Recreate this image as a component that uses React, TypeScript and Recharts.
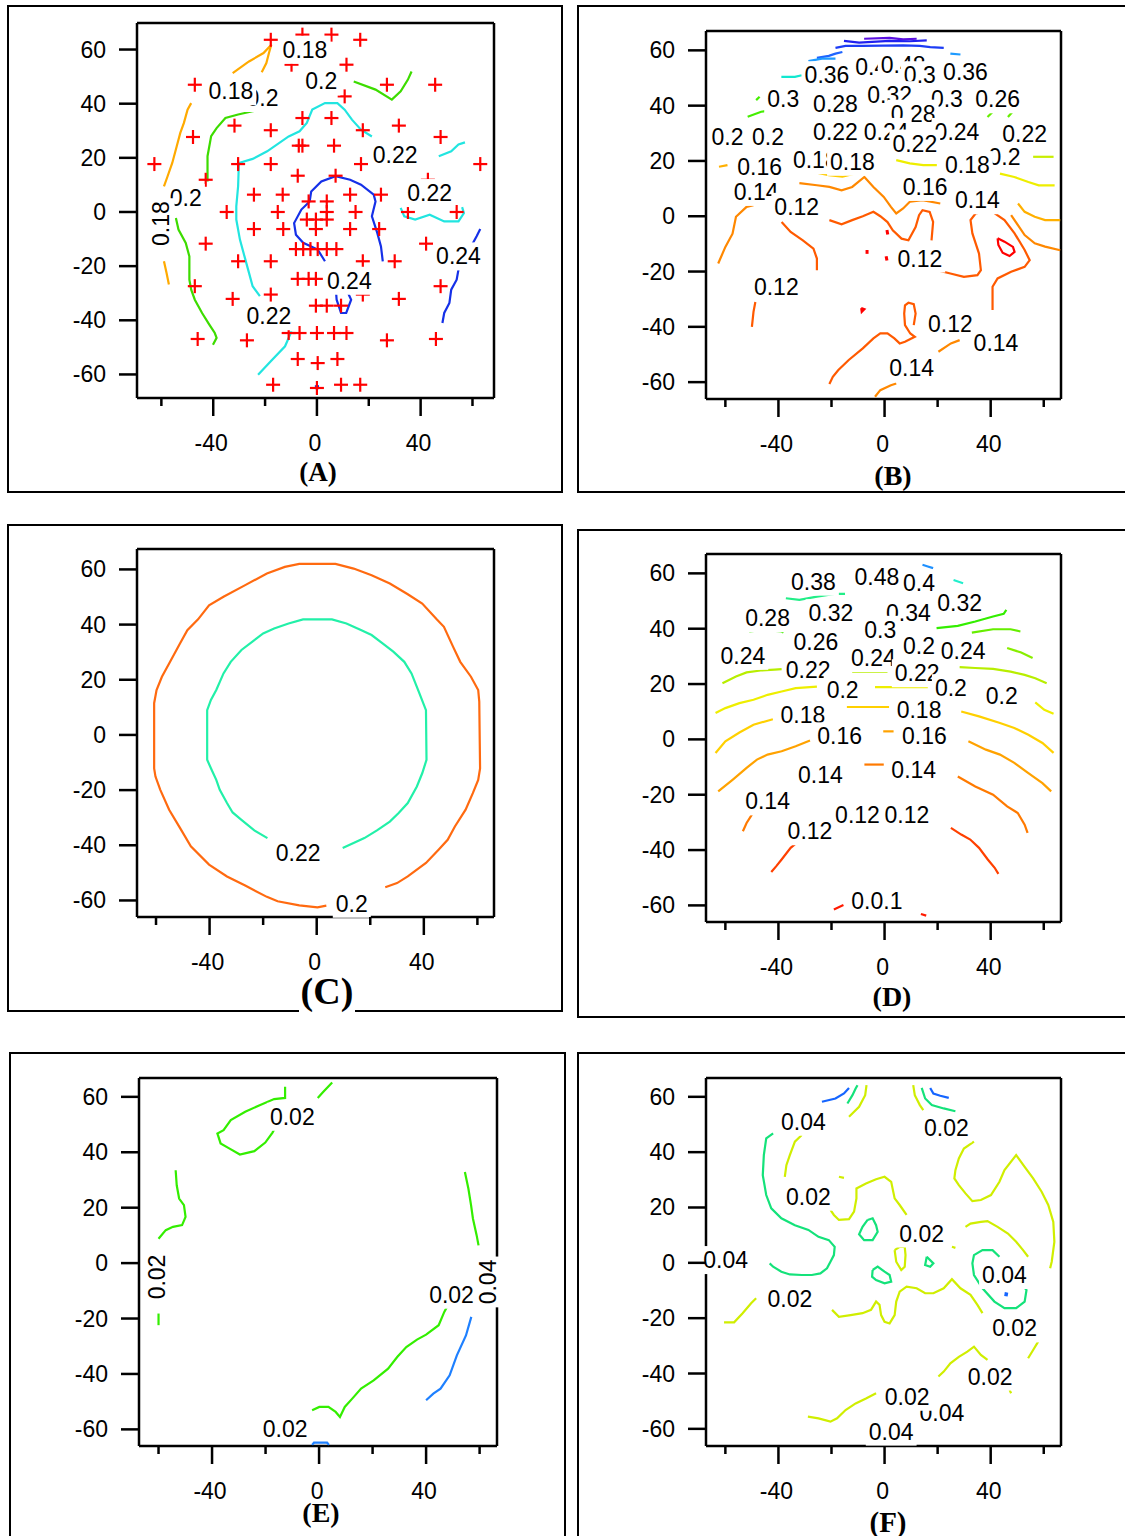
import React from "react";
import { ComposedChart, Line, Scatter, XAxis, YAxis, CartesianGrid } from "recharts";

type P = [number, number];
type Lab = [string, number, number];

const TICKS = [-60, -40, -20, 0, 20, 40, 60];
const FONT = "'Liberation Sans', Arial, Helvetica, sans-serif";

// ---------- (A) ----------
const aOrangeTop: P[] = [[-32.5, 51.3], [-26.2, 55.6], [-20.6, 58.7], [-17.6, 61.8], [-18.5, 58.7], [-19.5, 55], [-21.3, 51.6]];
const aOrangeLeft: P[] = [[-48.5, 40.2], [-49.9, 37.8], [-51.3, 32.9], [-52.7, 29.2], [-54.1, 24.2], [-55.8, 18.1], [-57.6, 13.2], [-59, 9.5]];
const aOrangeLow: P[] = [[-59, -18.2], [-58, -22.5], [-57.1, -26.8]];
const aGreenLeft: P[] = [[-42.2, 11.3], [-42.2, 20.6], [-40.8, 28], [-38.7, 31], [-35.3, 34.7], [-30.4, 36], [-24.8, 37.2], [-23.4, 37.5]];
const aGreenLow: P[] = [[-54.4, -2.2], [-53.4, -6.5], [-50.6, -11.4], [-49.2, -16.4], [-49.2, -25], [-48.5, -28.7], [-47.1, -32.4], [-44.3, -37.3], [-41.5, -41.6], [-39.4, -44.7], [-38.7, -46.5], [-40.1, -49]];
const aGreenTop: P[] = [[14.2, 48.2], [22.6, 45.2], [28.9, 41.5], [32.3, 44.6], [35.1, 48.9], [36.5, 51.9]];
const aCyanMain: P[] = [[-22, -31.1], [-24.8, -27.4], [-26.2, -22.5], [-27.6, -17.6], [-29.7, -10.2], [-31.1, -2.8], [-31.1, 2.1], [-30.4, 9.5], [-30.1, 18.1], [-24.8, 19.6], [-19.2, 22.4], [-10.9, 27.9], [-6.7, 29.8], [-3.9, 32.9], [-1.8, 37.8], [3.1, 40.2], [7.9, 40.2], [10.7, 37.8], [13.5, 34.1], [17, 30.4], [21.2, 27.9]];
const aCyanRight: P[] = [[47, 20.6], [51.8, 22.4], [54.6, 24.9], [57.1, 25.7]];
const aCyanLoop: P[] = [[32.3, 1.5], [33.7, -1.6], [37.9, -2.8], [43.5, -1], [49.1, -3.5], [54.6, -3.5], [56.7, -0.4], [56, 1.8]];
const aCyanLow: P[] = [[-22.7, -60.1], [-17.8, -55.1], [-12.3, -49.6], [-9.8, -44.1]];
const aBlueLoop: P[] = [[3.1, -18.2], [0.3, -13.9], [-5.3, -11.4], [-8.1, -8.4], [-8.8, -4.1], [-6, 0.9], [-2.8, 3.9], [-2.2, 7.6], [1.7, 11.3], [7.2, 13.2], [12.8, 11.9], [17, 10.1], [21.9, 6.4], [22.6, 3.9], [21.2, -1.6], [23.3, -7.8], [24.7, -12.7], [25.4, -18.2]];
const aBlueSmall: P[] = [[7.4, -29.9], [7.6, -32.4], [9.3, -37.3], [11.3, -37.3], [13.2, -32.4], [12, -29.9]];
const aBlueRight: P[] = [[63, -6.3], [61.6, -9], [54.6, -21.3], [53.9, -25], [51.8, -28.7], [51.1, -33.6], [49.1, -37.3], [48.4, -41]];
const aBlueDot: P[] = [[-0.8, -64.7], [0.8, -64.7]];
const aPlus: P[] = [
  [-17.8, 63.6], [16.7, 63.6], [-5.6, 65.5], [5.6, 65.5], [-9.8, 54.4], [11.4, 54.4],
  [-47.1, 47], [27, 47], [45.6, 47], [10.7, 42.7], [-5.6, 34.7], [5.6, 34.7],
  [-31.8, 31.9], [31.6, 31.9], [-17.8, 30.2], [17.7, 30.2], [-47.8, 27.7], [47.7, 27.7],
  [-5.6, 24.5], [-7, 24.5], [6.6, 24.5], [-62.7, 17.7], [-30.4, 17.7], [-17.8, 17.7], [17, 17.7], [63, 17.7],
  [-7.4, 13.4], [7.2, 13.4], [-42.9, 11.9], [42.8, 11.9], [-24.3, 6.4], [-13.2, 6.4], [12.8, 6.4], [24.7, 6.4],
  [-3.2, 3.9], [3.8, 3.9], [-34.8, 0], [-15.1, 0], [3.8, 0], [14.9, 0], [35.1, 0], [53.9, 0],
  [-3.9, -2.8], [-0.4, -2.8], [3.8, -2.8], [-24.3, -6.3], [-13, -6.3], [-0.4, -6.3], [12.8, -6.3], [24, -6.3],
  [-42.9, -11.7], [42.1, -11.7], [-8.1, -13.7], [-5.3, -13.7], [-2.5, -13.7], [0.3, -13.7], [3.8, -13.7], [7.5, -13.7],
  [-30.4, -18.2], [-17.8, -18.2], [17.7, -18.2], [30, -18.2], [-7.4, -24.7], [-3.2, -24.7], [-0.4, -24.7],
  [-47.1, -27.4], [47.7, -27.4], [-17.8, -30.5], [17.7, -30.5], [-32.5, -32.1], [31.6, -32.1],
  [-0.4, -34.6], [3.8, -34.6], [9.3, -34.6], [-10.9, -44.7], [-6.7, -44.7], [0, -44.7], [6.6, -44.7], [11.4, -44.7],
  [-46, -46.9], [45.9, -46.9], [-27, -47.4], [27, -47.4], [-7.4, -54.3], [0.3, -55.8], [7.9, -54.3],
  [-16.9, -63.8], [9.3, -63.8], [16.7, -63.8], [0, -65],
];
const aLabels: Lab[] = [["0.18", -4.6, 59.9], ["0.2", 1.7, 48.2], ["0.2", -21, 42.1], ["0.18", -33.2, 44.6], ["0.22", 30.2, 21.2], ["0.22", 43.5, 7], ["0.2", -50.6, 5.2], ["0.24", 54.6, -16.4], ["0.24", 12.5, -25.4], ["0.22", -18.5, -38.5]];
const aVLabels: Lab[] = [["0.18", -60.3, -4.3]];

// ---------- (B) ----------
const bViolet: P[] = [[-7.7, 64.2], [1.9, 64.5], [7, 64], [12.1, 64.2]];
const bBlueTop: P[] = [[-15.3, 63.4], [-9.6, 62.8], [1.9, 63.4], [9.5, 63.3], [15.9, 63.6]];
const bBlue2: P[] = [[-18.5, 60.9], [-14.7, 61.6], [-8.3, 61.6], [7, 61.8], [13.3, 61.6], [17.2, 61.2], [22.3, 60.9]];
const bBlue3: P[] = [[-25.5, 57.3], [-21, 58], [-18.5, 58.8], [-15.9, 59.4]];
const bSkyL: P[] = [[-28.7, 56.1], [-23.6, 57], [-18.5, 57]];
const bSkyR: P[] = [[24.8, 58.8], [28.6, 58.5]];
const bCyan: P[] = [[-38.9, 50.4], [-33.8, 50.4], [-31.2, 51]];
const bGreenL: P[] = [[-51.6, 36], [-46.5, 37.8], [-42.7, 38.3]];
const bGreenL2: P[] = [[-48.4, 42], [-47.1, 43.2]];
const bGreenR1: P[] = [[38.8, 35.9], [40.7, 37.7]];
const bGreenR2: P[] = [[46.5, 35.9], [48.4, 38]];
const bLimeR: P[] = [[56, 21.5], [63.7, 21.5]];
const bYellowC: P[] = [[4.4, 20.3], [9.5, 19.1], [14.6, 18.5], [19.7, 18.5]];
const bYellowR: P[] = [[43.5, 15.4], [48.9, 14.2], [54.2, 12.4], [58.1, 11.2], [64.1, 11.2]];
const bGoldC: P[] = [[-27.4, 16.1], [-21, 14.9], [-15.9, 14.3], [-10.9, 15.5]];
const bGoldL: P[] = [[-62.4, 17.9], [-59.2, 18.5]];
const bGoldR: P[] = [[50.3, 4.6], [52.8, 1.6], [56.6, -0.2], [60.5, -1.4], [66.2, -1.4]];
const bOrangeL: P[] = [[-62.7, -17.1], [-60, -11.1], [-57.3, -6.3], [-56, -0.2], [-52, 3.4], [-49.4, 4]];
const bOrangeTop: P[] = [[-32.1, 12], [-25.5, 11.2], [-20.8, 10.6], [-16.2, 9.4], [-12.2, 10.6], [-7.6, 14.2], [-4.2, 10.6], [-0.3, 7], [2.4, 3.4], [4.4, 1], [7, 2.8], [9.6, 5.3], [14.3, 5.8], [21, 4.6]];
const bOrangeR: P[] = [[47.7, 0.4], [52.8, -6.8], [56.6, -9.8], [60.5, -11], [66.2, -12.3]];
const bOrangeBot1: P[] = [[-3.6, -65.3], [-1.6, -62.9], [2.4, -61.1], [4.4, -60.5]];
const bOrangeBot2: P[] = [[20.3, -49], [25, -46], [28.3, -44.8]];
const bRedL: P[] = [[-38.8, -2.1], [-35.4, -5.7], [-30.8, -8.7], [-26.8, -11.7], [-25.5, -15.3], [-25.5, -19.5]];
const bRedLL: P[] = [[-48.7, -31], [-49.4, -34.6], [-50, -40]];
const bRedC: P[] = [[-20.8, -1.4], [-16.2, -2.9], [-12.2, -1.4], [-8.2, 0], [-4.2, 1.6], [-1.6, 0], [1.1, -2.1], [3.1, -5.1], [6.4, -8.1], [9, -8.7], [11.7, -3.9], [13, 0.4], [14.3, 2.2], [17, 1.6], [18.3, -2], [17.7, -8.7]];
const bRedR: P[] = [[19.7, -19.5], [24.8, -20.7], [29.9, -21.9], [35, -21.3], [36.3, -19.5], [35.6, -13.5], [33.1, -6.2], [32.4, -1.4], [34.3, 1], [37.5, 1.6], [40.7, 1.6], [45.2, -1.4], [49, -6.2], [52.8, -12.2], [54.7, -15.9], [52.8, -18.3], [47.7, -20.1], [42.6, -22.5], [40.7, -25.5], [40.7, -33.9]];
const bRedBot: P[] = [[-20.8, -60.7], [-19.5, -58.1], [-17.5, -55.7], [-13.5, -52], [-8.2, -47.8], [-4.2, -44.2], [-1.6, -42.4], [1.1, -42.4], [3.7, -44.2], [5.7, -46], [7.7, -45.4], [11.4, -43.6], [9.7, -42.4], [7.7, -39.4], [7.4, -35.2], [7.7, -32.2], [9, -31.3], [11, -31.8], [11.7, -35.2], [11, -39.4]];
const bRedLoop: P[] = [[42.6, -8], [45.2, -9.2], [48.4, -11.1], [49, -12.9], [47.1, -14.4], [44.5, -13.2], [42.9, -10.4], [42.6, -8]];
const bRedBit1: P[] = [[0.9, -5], [1.2, -6.6]];
const bRedBit2: P[] = [[-6.6, -12.2], [-6.6, -13.6]];
const bRedBit3: P[] = [[0.6, -14.5], [0.9, -16]];
const bRedBit4: P[] = [[-8.8, -33.2], [-7.6, -33.6], [-8.6, -34.6], [-8.8, -33.2]];
const bLabels: Lab[] = [
  ["0.4", -5, 54], ["0.48", 7, 54.6], ["0.36", -21.7, 51], ["0.3", 13.3, 51], ["0.36", 30.5, 52.2],
  ["0.32", 1.9, 43.8], ["0.3", -38.2, 42.3], ["0.28", -18.5, 40.7], ["0.3", 23.5, 42.3], ["0.26", 42.6, 42.3], ["0.28", 10.8, 37.1],
  ["0.24", 0.6, 30.5], ["0.24", 27.3, 30.5], ["0.2", -59.2, 28.7], ["0.2", -43.9, 28.7], ["0.22", -18.5, 30.5], ["0.22", 11.4, 26.3], ["0.22", 52.8, 29.9],
  ["0.2", 45.2, 21.5], ["0.18", -26.1, 20.3], ["0.18", -12.1, 19.7], ["0.18", 31.2, 18.5], ["0.16", -47.1, 17.9], ["0.14", -48.4, 8.8],
  ["0.12", -33.1, 3.4], ["0.16", 15.3, 10.6], ["0.14", 35, 5.8],
  ["0.12", 13.3, -15.3], ["0.12", -40.8, -25.5], ["0.12", 24.8, -38.8], ["0.14", 42, -46], ["0.14", 10.2, -55],
];

// ---------- (C) ----------
const cOuter: P[] = [[3.6, -61.9], [0.3, -62.5], [-6.5, -61.8], [-14.6, -60.3], [-18.6, -58.7], [-26.7, -54.6], [-33.5, -51.3], [-40.2, -47], [-47, -40.4], [-51, -33.8], [-55.1, -27.1], [-58.4, -19.9], [-60.2, -15.1], [-60.7, -12.1], [-60.7, 11.5], [-59.8, 16.3], [-57.8, 21.1], [-55.1, 25.9], [-51, 33.2], [-48.3, 38], [-44.3, 41.9], [-40.2, 47], [-34.8, 50.1], [-26.7, 54.3], [-18.6, 58.5], [-11.9, 60.9], [-6.5, 62], [7, 62], [13.8, 60.3], [20.5, 57.9], [27.3, 54.9], [34, 51], [39.4, 47.6], [44.8, 41.9], [47.5, 39.2], [50.9, 32], [53.6, 26.5], [57.6, 21.1], [60.3, 16.3], [60.7, 12.1], [61, -12.1], [60.3, -16.3], [58.3, -21.1], [55.6, -27.1], [51.6, -33.2], [48.9, -38], [45.5, -41.6], [40.8, -46.4], [34, -51.3], [30, -53.7], [25.6, -55.2]];
const cInner: P[] = [[-18.4, -37.4], [-23.3, -34.6], [-28.1, -30.8], [-31.4, -28.1], [-33.5, -24.7], [-36.2, -19.9], [-37.5, -16.3], [-39.5, -12.1], [-40.9, -9], [-40.9, 9], [-39.5, 12.7], [-37.5, 16.3], [-34.8, 22.3], [-32.1, 26.5], [-28.1, 30.8], [-24, 33.8], [-20, 36.8], [-15.9, 38.6], [-10.5, 40.4], [-5.1, 41.9], [5.7, 41.9], [11.1, 40.4], [16.5, 38], [20.5, 36.2], [24.6, 33.2], [28.6, 30.2], [32.7, 26.5], [35.4, 22.3], [38.1, 15.7], [40.8, 9], [41, -9], [39.4, -13.9], [37.4, -18.7], [34, -24.7], [30.6, -28.3], [27.3, -31.4], [22.5, -34.6], [17.8, -37.4], [9.7, -41]];
const cLabels: Lab[] = [["0.22", -6.9, -42.8], ["0.2", 13.1, -61.2]];

// ---------- (D) ----------
const d10a: P[] = [[-19.1, -61.5], [-15.5, -59.9]];
const d10b: P[] = [[13.7, -63.1], [15.7, -63.7]];
const d12L: P[] = [[-42.7, -47.9], [-40.8, -45.8], [-38.8, -43.4], [-35.4, -39.2], [-33.5, -37.7]];
const d12R: P[] = [[25, -32], [28.9, -34.4], [32.3, -36.2], [35.6, -39.2], [38.9, -43.4], [41.5, -46.4], [42.9, -48.6]];
const d14L: P[] = [[-53.4, -33.2], [-52, -30.2], [-50, -27.2]];
const d14C: P[] = [[-7.6, -9.1], [-0.3, -9.1]];
const d14R: P[] = [[27.6, -13.4], [34.2, -17], [40.9, -20], [46.2, -24.2], [50.2, -26.6], [52.8, -30.8], [53.9, -33.8]];
const d16L: P[] = [[-62.7, -18.8], [-57.3, -14.6], [-52, -10.3], [-48.1, -7.3], [-44.1, -5.5], [-38.8, -4.3], [-33.5, -2.5], [-28.1, -0.4]];
const d16C: P[] = [[-0.5, 2.9], [3.4, 2.9]];
const d16R: P[] = [[31.6, -0.7], [38.2, -3.7], [43.5, -5.5], [48.9, -8.5], [54.2, -12.2], [59.5, -15.8], [62.8, -18.8]];
const d18L: P[] = [[-63.7, -4.9], [-60, -0.7], [-54.7, 2.5], [-49.4, 5.3], [-42.1, 7.3]];
const d18C: P[] = [[-14.2, 11.7], [1.7, 11.7]];
const d18R: P[] = [[28.9, 10.1], [35.6, 8.3], [43.5, 5.9], [48.9, 4.1], [54.2, 1.7], [59.5, -1.3], [63.7, -4.9]];
const d20L: P[] = [[-63.7, 9.5], [-60, 11.3], [-54.7, 13.1], [-49.4, 14.3], [-44.1, 16.1], [-38.8, 17.3], [-33.5, 18.5], [-25.5, 19.1]];
const d20C: P[] = [[-3.6, 18.9], [16.3, 18.9]];
const d20R: P[] = [[56.8, 13.4], [60.2, 10.7], [63.7, 9.3]];
const d22L: P[] = [[-61.1, 20.3], [-56, 22.7], [-52, 24.2], [-46.7, 24.9], [-41.4, 25.2], [-38.8, 25.4]];
const d22R: P[] = [[28.3, 26.1], [34.2, 25.8], [40.9, 25.5], [47.5, 24.5], [52.8, 23.3], [56.8, 22.1], [61.1, 20.3]];
const d24C: P[] = [[-12.2, 24.5], [1.1, 24.5]];
const d26R: P[] = [[46.2, 33], [51.5, 31.4], [55.8, 29.4]];
const d28L: P[] = [[-51, 39], [-45.4, 39.6], [-38.8, 39], [-38.1, 38.6]];
const d28R: P[] = [[32.9, 38.6], [40.9, 39.8], [47.5, 39.8], [51.2, 39]];
const d30R: P[] = [[19.6, 40.2], [27.6, 41], [34.2, 42.6], [40.9, 44.4], [44.9, 45.4], [45.9, 46.8]];
const d38L: P[] = [[-37.2, 51], [-32.1, 50.4], [-25.5, 51.6], [-18.9, 52.6], [-14.9, 52.6]];
const d40R: P[] = [[26, 57.6], [29.6, 56.4]];
const d48R: P[] = [[14.3, 63.1], [16.3, 62.5], [18.3, 61.9]];
const dLabels: Lab[] = [
  ["0.38", -26.8, 57], ["0.48", -2.9, 58.8], ["0.4", 13, 56.4], ["0.32", 28.3, 49.2], ["0.28", -44.1, 43.8],
  ["0.32", -20.2, 45.6], ["0.34", 9, 45.6], ["0.3", -1.6, 39.6], ["0.26", -25.9, 35.1], ["0.24", -53.4, 30.2],
  ["0.24", -4.2, 29.4], ["0.2", 13, 33.6], ["0.24", 29.6, 31.8], ["0.22", -28.8, 24.9], ["0.22", 12.3, 23.9],
  ["0.2", -15.8, 17.9], ["0.2", 25, 18.5], ["0.2", 44.2, 15.5], ["0.18", -30.8, 8.9], ["0.18", 13, 10.7],
  ["0.16", -16.9, 1.1], ["0.16", 15, 1.1], ["0.14", -24.2, -12.8], ["0.14", 11, -11], ["0.14", -44.1, -22.4],
  ["0.12", -10.2, -27.2], ["0.12", 8.4, -27.2], ["0.12", -28.1, -33.2], ["0.0.1", -2.9, -58.5],
];

// ---------- (E) ----------
const eLoop: P[] = [[-12.7, 63.6], [-12.7, 59.6], [-16.8, 59.2], [-22.2, 57], [-27.6, 54.6], [-33, 51.6], [-35.7, 48], [-38, 46.8], [-36.8, 43.2], [-33.6, 41.4], [-29.6, 39.2], [-24.2, 40.4], [-20.1, 43.5], [-17.4, 47.1], [-16.5, 48.8]];
const eTopRight: P[] = [[-0.5, 59.6], [1.6, 61.8], [4.9, 65.2]];
const eLeft: P[] = [[-53.6, 33.5], [-53.2, 28.1], [-52.3, 23.3], [-50.5, 20.9], [-49.9, 16.7], [-51.2, 13.7], [-54.6, 13.1], [-57.3, 11.9], [-60, 8.8]];
const eLeftLow: P[] = [[-60, -18.2], [-60, -22.4]];
const eRight: P[] = [[54.5, 32.9], [55.8, 26.9], [56.8, 20.9], [57.5, 16.1], [58.9, 10], [59.6, 6.4]];
const eBottom: P[] = [[-2.6, -53.1], [0.1, -51.9], [3.5, -51.9], [6.2, -53.7], [7.8, -55.5], [9.6, -51.9], [12.4, -48.9], [15.7, -45.3], [20.4, -42.3], [25.8, -38.1], [29.2, -33.9], [32.6, -30.3], [36.6, -27.6], [40, -25.8], [44.7, -22.4], [46.8, -17.6], [47.8, -15.8]];
const eBlue: P[] = [[40, -49.5], [42.7, -47.1], [45.4, -45.3], [48.8, -40.5], [51.5, -33.3], [54.9, -26.1], [56.9, -19.4]];
const eBlueBottom: P[] = [[-2.6, -65.6], [-1.9, -64.8], [3, -64.8], [3.7, -65.6]];
const eLabels: Lab[] = [["0.02", -10, 52.8], ["0.02", 49.5, -11.4], ["0.02", -12.7, -59.8]];
const eVLabels: Lab[] = [["0.02", -60.7, -5], ["0.04", 63, -6.8]];

// ---------- (F) ----------
const fBlueTL: P[] = [[-23.6, 58.2], [-18.5, 59.4], [-15.3, 61.2], [-13.4, 63.2]];
const fGreenTL: P[] = [[-14, 57.6], [-12.1, 60.6], [-10.9, 63], [-10.2, 64.2]];
const fLimeTL: P[] = [[-13.4, 52.8], [-9.6, 56.4], [-7.3, 60.6], [-6.8, 64.2]];
const fLimeTR: P[] = [[10.8, 64.2], [11.4, 60.6], [13.3, 57], [14.6, 55.2]];
const fGreenTR: P[] = [[14, 63.2], [15.3, 59.4], [17.8, 57], [22.3, 55.8], [26.7, 54.8]];
const fBlueTR: P[] = [[17.2, 63.2], [18.4, 61.2], [21, 60.4], [24.2, 59.6]];
const fGreenBig: P[] = [[-42, 46.8], [-44.6, 45], [-45.5, 38.9], [-45.9, 31.7], [-44.6, 24.5], [-42.7, 19.7], [-38.9, 16.1], [-33.8, 13.6], [-28.7, 11.9], [-24.9, 9.4], [-21, 8.2], [-18.8, 5.8], [-19.1, 2.8], [-20.4, 0.4], [-21.7, -2], [-24.2, -3.8], [-27.4, -4.4], [-31.2, -4.4], [-35.7, -4.2], [-38.9, -3.2], [-42, -1.4], [-43.3, -0.2]];
const fLimeL: P[] = [[-31.2, 46.2], [-33.8, 43.8], [-35.7, 38.9], [-37, 35.3], [-37.6, 31.1]];
const fLimeTick: P[] = [[-17.2, 31.1], [-15.3, 30.7]];
const fLimeCenter: P[] = [[-20.4, 19.1], [-19.1, 17.3], [-17.2, 15.5], [-13.4, 15.8], [-11.5, 18.5], [-10.6, 23.3], [-10.6, 26.9], [-7, 28.7], [-3.2, 30.2], [0, 31.1], [2.5, 29.3], [3.8, 23.3], [5.7, 20.9], [8.3, 17.3]];
const fGreenLoop1: P[] = [[-6.4, 15.5], [-4.5, 16.1], [-3.2, 13.6], [-2.6, 11.2], [-4.5, 8.2], [-7.7, 8.2], [-9.6, 10.3], [-8.3, 13], [-6.4, 15.5]];
const fLimeLoop: P[] = [[3.8, 4.6], [4.4, 0.4], [6.3, -2.6], [7.6, -1.4], [7.9, 2.8], [7.6, 5.8], [5.7, 5.8], [3.8, 4.6]];
const fGreenLoop2: P[] = [[-4.5, -2.6], [-2.6, -1.4], [0, -3.2], [1.9, -4.4], [2.5, -6.8], [0, -7.4], [-3.2, -6.2], [-4.7, -5], [-4.5, -2.6]];
const fGreenTri: P[] = [[15.9, 2.2], [15.3, -0.8], [17.2, -1.4], [18.4, -0.2], [15.9, 2.2]];
const fLimeBotC: P[] = [[-19.8, -17], [-17.2, -19.5], [-12.8, -18.9], [-8.3, -18.2], [-5.1, -17], [-3.2, -14], [-1.9, -15.2], [-1.3, -18.9], [0, -21.3], [1.9, -21.9], [3.8, -18.9], [4.4, -14], [5.7, -10.4], [8.3, -8.6], [12.1, -9.2], [15.3, -11], [18.4, -11], [22.3, -9.2], [25.4, -5.9], [28.6, -9.2], [32.4, -11.6], [35, -15.2], [36.9, -18.2]];
const fLimeArc: P[] = [[30.5, 13], [32.4, 14.2], [36.3, 14.8], [38.8, 15.1], [42.6, 13], [46.5, 10.6], [49.6, 7.6], [52.2, 4.6], [54.1, 2.2]];
const fGreenRight: P[] = [[43.3, 2.2], [40.7, 4.6], [36.9, 4.6], [33.7, 2.8], [33.1, -0.2], [33.7, -4.4], [36.9, -9.2], [41.4, -14], [45.2, -16.4], [49.6, -16.4], [52.8, -14], [53.5, -9.8], [50.9, -6.8], [49, -5.6]];
const fBlueDot: P[] = [[45.2, -11.3], [46.5, -11.5]];
const fLimeFar: P[] = [[33.7, 43.8], [29.9, 41.3], [28, 37.7], [26.7, 33.5], [26.3, 30.5], [28, 28.1], [30.5, 25.1], [33.1, 22.3], [36.3, 22.7], [40.1, 24.5], [43.3, 29.3], [45.2, 33.5], [49.6, 38.9], [52.8, 34.7], [56, 30.5], [59.2, 25.7], [61.7, 20.9], [63.6, 14.8], [64, 7.6], [63, 0.4], [62.4, -2]];
const fLimeBL: P[] = [[-60.5, -21.5], [-56.7, -21.5], [-53.5, -18.2], [-50.3, -14.6], [-48.4, -12.8]];
const fLimeRL: P[] = [[57.9, -28.5], [56, -31.5], [54.1, -34.5]];
const fLimeBR: P[] = [[20.3, -41.1], [22.3, -39.3], [24.8, -36.3], [28, -34], [31.2, -32.1], [33.7, -30.3], [36.3, -33.3], [38.8, -35.1]];
const fLimeTick2: P[] = [[47.1, -46], [47.7, -47.1]];
const fLimeBottom: P[] = [[-28.9, -55.6], [-24.9, -56.2], [-20.4, -57.4], [-17.9, -56.2], [-14.7, -53.2], [-10.9, -50.8], [-7, -49], [-3.2, -47.1]];
const fLimeTick3: P[] = [[25.4, 5.8], [26.7, 5.4]];
const fLabels: Lab[] = [["0.04", -30.6, 51], ["0.02", 23.3, 48.6], ["0.02", -28.7, 23.9], ["0.02", 14, 10.6], ["0.04", -59.9, 1], ["0.04", 45.2, -4.4], ["0.02", -35.7, -13.1], ["0.02", 49, -23.7], ["0.02", 39.8, -41.1], ["0.04", 21.6, -54.4], ["0.02", 8.5, -48.4], ["0.04", 2.5, -61]];

type Curve = { pts: P[]; color: string; w?: number };

const toXY = (pts: P[]) => pts.map(([x, y]) => ({ x, y }));
const toLab = (l: Lab[]) => l.map(([t, x, y]) => ({ x, y, t }));

function textW(s: string) {
  let w = 0;
  for (const ch of s) w += ch === "." ? 6.4 : 12.8;
  return w;
}

function LabelShape(props: any) {
  const { cx, cy, payload } = props;
  const w = textW(payload.t) + 6;
  return (
    <g>
      <rect x={cx - w / 2} y={cy - 14} width={w} height={28} fill="#fff" />
      <text x={cx} y={cy + 8} textAnchor="middle" fontSize={23} fontFamily={FONT} fill="#000">{payload.t}</text>
    </g>
  );
}

function VLabelShape(props: any) {
  const { cx, cy, payload } = props;
  const w = textW(payload.t) + 6;
  return (
    <g transform={`rotate(-90, ${cx}, ${cy})`}>
      <rect x={cx - w / 2} y={cy - 14} width={w} height={28} fill="#fff" />
      <text x={cx} y={cy + 8} textAnchor="middle" fontSize={23} fontFamily={FONT} fill="#000">{payload.t}</text>
    </g>
  );
}

function PlusShape(props: any) {
  const { cx, cy } = props;
  return (
    <g stroke="#ff0000" strokeWidth={2.2}>
      <line x1={cx - 7} y1={cy} x2={cx + 7} y2={cy} />
      <line x1={cx} y1={cy - 7} x2={cx} y2={cy + 7} />
    </g>
  );
}

function XTick(props: any) {
  const { x, y, payload } = props;
  const v = payload.value;
  const major = v % 40 === 0;
  return (
    <g>
      <line x1={x} y1={y} x2={x} y2={y + (major ? 18 : 8)} stroke="#000" strokeWidth={2.5} />
      {major && (
        <text x={x - 2} y={y + 53} textAnchor="middle" fontSize={23} fontFamily={FONT} fill="#000">{v}</text>
      )}
    </g>
  );
}

function YTick(props: any) {
  const { x, y, payload } = props;
  return (
    <g>
      <line x1={x - 18} y1={y} x2={x} y2={y} stroke="#000" strokeWidth={2.5} />
      <text x={x - 31} y={y + 8} textAnchor="end" fontSize={23} fontFamily={FONT} fill="#000">{payload.value}</text>
    </g>
  );
}

type PanelProps = {
  left: number; top: number; w: number; h: number;
  xd: [number, number]; yd: [number, number];
  curves: Curve[]; labels: Lab[]; vlabels?: Lab[]; plus?: P[];
};

function Panel({ left, top, w, h, xd, yd, curves, labels, vlabels, plus }: PanelProps) {
  const ML = 90, MT = 10, MR = 40, MB = 90;
  return (
    <div style={{ position: "absolute", left: left - ML, top: top - MT }}>
      <ComposedChart width={ML + w + MR} height={MT + h + MB} margin={{ top: MT, right: MR, left: 0, bottom: 0 }}>
        {/* plot frame drawn as grid lines on the four edges, so it sits under the labels */}
        <CartesianGrid stroke="#000" strokeWidth={2.5}
          verticalCoordinatesGenerator={({ offset }: any) => [offset.left, offset.left + offset.width]}
          horizontalCoordinatesGenerator={({ offset }: any) => [offset.top, offset.top + offset.height]} />
        <XAxis type="number" dataKey="x" domain={xd} ticks={TICKS} interval={0} tick={<XTick />}
          tickLine={false} axisLine={false} tickSize={0} tickMargin={0} height={MB} />
        <YAxis type="number" dataKey="y" domain={yd} ticks={TICKS} interval={0} tick={<YTick />}
          tickLine={false} axisLine={false} tickSize={0} tickMargin={0} width={ML} />
        {curves.map((c, i) => (
          <Line key={i} data={toXY(c.pts)} dataKey="y" type="linear" stroke={c.color} strokeWidth={c.w || 2.2}
            dot={false} activeDot={false} isAnimationActive={false} />
        ))}
        {plus && <Scatter data={toXY(plus)} shape={(p: any) => <PlusShape {...p} />} isAnimationActive={false} />}
        <Scatter data={toLab(labels)} shape={(p: any) => <LabelShape {...p} />} isAnimationActive={false} />
        {vlabels && <Scatter data={toLab(vlabels)} shape={(p: any) => <VLabelShape {...p} />} isAnimationActive={false} />}
      </ComposedChart>
    </div>
  );
}

const box = (left: number, top: number, w: number, h: number): React.CSSProperties => ({
  position: "absolute", left, top, width: w, height: h, border: "2px solid #000", boxSizing: "border-box",
});

function Title({ x, y, size, text, bg }: { x: number; y: number; size: number; text: string; bg?: boolean }) {
  return (
    <div style={{
      position: "absolute", left: x - 60, top: y - size * 0.62, width: 120, textAlign: "center",
      fontFamily: "'Liberation Serif', 'Times New Roman', serif", fontWeight: "bold", fontSize: size, lineHeight: `${size * 1.2}px`,
    }}>
      <span style={{ background: bg ? "#fff" : "transparent", padding: "0 2px" }}>{text}</span>
    </div>
  );
}

const OR = "#ffaa00", GR = "#3ddc00", CY = "#22e5e0", BL = "#1530e8";
const aCurves: Curve[] = [
  { pts: aOrangeTop, color: OR }, { pts: aOrangeLeft, color: OR }, { pts: aOrangeLow, color: OR },
  { pts: aGreenLeft, color: GR }, { pts: aGreenLow, color: GR }, { pts: aGreenTop, color: GR },
  { pts: aCyanMain, color: CY }, { pts: aCyanRight, color: CY }, { pts: aCyanLoop, color: CY }, { pts: aCyanLow, color: CY },
  { pts: aBlueLoop, color: BL }, { pts: aBlueSmall, color: BL }, { pts: aBlueRight, color: BL }, { pts: aBlueDot, color: BL, w: 4 },
];

const bCurves: Curve[] = [
  { pts: bViolet, color: "#5b10e0" }, { pts: bBlueTop, color: "#2020ee" }, { pts: bBlue2, color: "#1c3cf5" },
  { pts: bBlue3, color: "#1e64ff" }, { pts: bSkyL, color: "#1e9bff" }, { pts: bSkyR, color: "#1e9bff" },
  { pts: bCyan, color: "#11e8d0" }, { pts: bGreenL, color: "#44ee00" }, { pts: bGreenL2, color: "#44ee00" },
  { pts: bGreenR1, color: "#66ee00" }, { pts: bGreenR2, color: "#66ee00" }, { pts: bLimeR, color: "#c8ee00" },
  { pts: bYellowC, color: "#eeee00" }, { pts: bYellowR, color: "#eeee00" }, { pts: bGoldC, color: "#ffcc00" },
  { pts: bGoldL, color: "#ffb000" }, { pts: bGoldR, color: "#ffb000" },
  { pts: bOrangeL, color: "#ff8800" }, { pts: bOrangeTop, color: "#ff8800" }, { pts: bOrangeR, color: "#ff8800" },
  { pts: bOrangeBot1, color: "#ff8800" }, { pts: bOrangeBot2, color: "#ff8800" },
  { pts: bRedL, color: "#ff5a00" }, { pts: bRedLL, color: "#ff5a00" }, { pts: bRedC, color: "#ff5a00" },
  { pts: bRedR, color: "#ff5a00" }, { pts: bRedBot, color: "#ff5a00" },
  { pts: bRedLoop, color: "#ff0000" }, { pts: bRedBit1, color: "#ff0000", w: 3 }, { pts: bRedBit2, color: "#ff0000", w: 3 },
  { pts: bRedBit3, color: "#ff0000", w: 3 }, { pts: bRedBit4, color: "#ff0000" },
];

const cCurves: Curve[] = [{ pts: cOuter, color: "#ff6a10" }, { pts: cInner, color: "#22f0a8" }];

const dCurves: Curve[] = [
  { pts: d10a, color: "#ff1a00" }, { pts: d10b, color: "#ff1a00" },
  { pts: d12L, color: "#ff4000" }, { pts: d12R, color: "#ff4000" },
  { pts: d14L, color: "#ff7a00" }, { pts: d14C, color: "#ff7a00" }, { pts: d14R, color: "#ff7a00" },
  { pts: d16L, color: "#ffa200" }, { pts: d16C, color: "#ffa200" }, { pts: d16R, color: "#ffa200" },
  { pts: d18L, color: "#ffd000" }, { pts: d18C, color: "#ffd000" }, { pts: d18R, color: "#ffd000" },
  { pts: d20L, color: "#eeee00" }, { pts: d20C, color: "#eeee00" }, { pts: d20R, color: "#eeee00" },
  { pts: d22L, color: "#b8ee00" }, { pts: d22R, color: "#b8ee00" }, { pts: d24C, color: "#b8ee00" },
  { pts: d26R, color: "#88ee00" }, { pts: d28L, color: "#44ee00" }, { pts: d28R, color: "#66ee00" },
  { pts: d30R, color: "#33ee00" }, { pts: d38L, color: "#22ee88" }, { pts: d40R, color: "#22eecc" },
  { pts: d48R, color: "#1e90ff" },
];

const EG = "#33ee00", EB = "#1e80ff";
const eCurves: Curve[] = [
  { pts: eLoop, color: EG }, { pts: eTopRight, color: EG }, { pts: eLeft, color: EG }, { pts: eLeftLow, color: EG },
  { pts: eRight, color: EG }, { pts: eBottom, color: EG }, { pts: eBlue, color: EB }, { pts: eBlueBottom, color: EB },
];

const FL = "#d0ee00", FG = "#14e27a", FB = "#1565ff";
const fCurves: Curve[] = [
  { pts: fBlueTL, color: FB }, { pts: fGreenTL, color: FG }, { pts: fLimeTL, color: FL }, { pts: fLimeTR, color: FL },
  { pts: fGreenTR, color: FG }, { pts: fBlueTR, color: FB }, { pts: fGreenBig, color: FG }, { pts: fLimeL, color: FL },
  { pts: fLimeTick, color: FL }, { pts: fLimeCenter, color: FL }, { pts: fGreenLoop1, color: FG }, { pts: fLimeLoop, color: FL },
  { pts: fGreenLoop2, color: FG }, { pts: fGreenTri, color: FG }, { pts: fLimeBotC, color: FL }, { pts: fLimeArc, color: FL },
  { pts: fGreenRight, color: FG }, { pts: fBlueDot, color: FB, w: 4 }, { pts: fLimeFar, color: FL }, { pts: fLimeBL, color: FL },
  { pts: fLimeRL, color: FL }, { pts: fLimeBR, color: FL }, { pts: fLimeTick2, color: FL }, { pts: fLimeBottom, color: FL },
  { pts: fLimeTick3, color: FL },
];

export default function App() {
  return (
    <div style={{ position: "absolute", left: 0, top: 0, width: 1125, height: 1536, background: "#fff", overflow: "hidden" }}>
      <div style={box(7, 5, 556, 488)} />
      <div style={box(577, 5, 560, 488)} />
      <div style={box(7, 524, 556, 488)} />
      <div style={box(577, 529, 560, 489)} />
      <div style={box(9, 1052, 557, 500)} />
      <div style={box(577, 1052, 560, 500)} />

      <Panel left={137} top={23} w={357} h={375} xd={[-69.4, 68.3]} yd={[-68.7, 69.8]} curves={aCurves} labels={aLabels} vlabels={aVLabels} plus={aPlus} />
      <Panel left={706} top={31} w={355} h={368} xd={[-67.3, 66.5]} yd={[-66.1, 67]} curves={bCurves} labels={bLabels} />
      <Panel left={137} top={549} w={357} h={368} xd={[-67.1, 66.2]} yd={[-66, 67.4]} curves={cCurves} labels={cLabels} />
      <Panel left={706} top={554} w={355} h={368} xd={[-67.3, 66.5]} yd={[-66, 67]} curves={dCurves} labels={dLabels} />
      <Panel left={139} top={1078} w={358} h={368} xd={[-67.3, 66.5]} yd={[-66, 66.8]} curves={eCurves} labels={eLabels} vlabels={eVLabels} />
      <Panel left={706} top={1078} w={355} h={368} xd={[-67.3, 66.5]} yd={[-66.2, 66.8]} curves={fCurves} labels={fLabels} />

      <Title x={318} y={473} size={27} text="(A)" />
      <Title x={893} y={476} size={28} text="(B)" />
      <Title x={327} y={993} size={38} text="(C)" bg />
      <Title x={892} y={997} size={28} text="(D)" />
      <Title x={321} y={1513} size={28} text="(E)" />
      <Title x={888} y={1523} size={29} text="(F)" />
    </div>
  );
}
